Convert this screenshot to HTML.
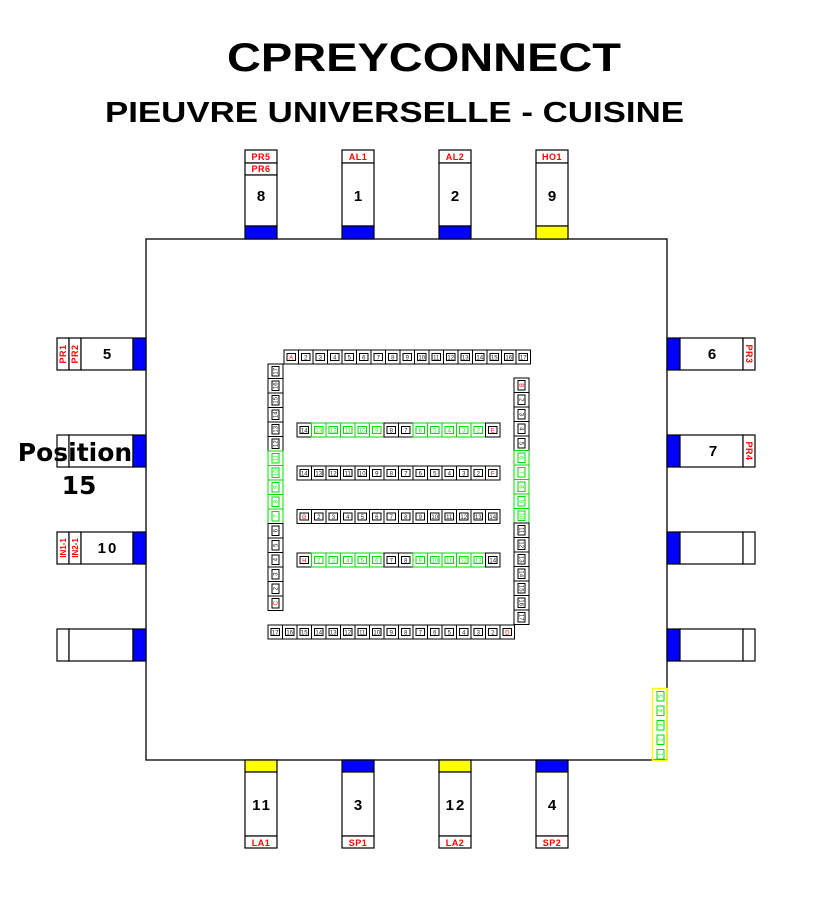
<!DOCTYPE html>
<html><head><meta charset="utf-8"><style>
html,body{margin:0;padding:0;background:#fff;}
svg{display:block;}
text{font-family:"Liberation Sans",sans-serif;}
.c{stroke:#000;stroke-width:1;fill:none}
.c text{fill:#222;stroke:none;font-size:6px;text-anchor:middle}
.g{stroke:#0d0}
.g text{fill:#2e2}
.r .in{stroke:#f00}
.r text{fill:#f00}
.lab{font-weight:bold;font-size:9px;fill:#f00;text-anchor:middle;letter-spacing:0.5px}
.num{font-weight:bold;font-size:15px;fill:#000;text-anchor:middle;letter-spacing:2px}
</style></head><body>
<svg width="826" height="903" viewBox="0 0 826 903" xmlns="http://www.w3.org/2000/svg">
<defs>
<rect id="oh" width="14.5" height="14"/>
<rect id="ih" class="in" x="3" y="3.5" width="8.5" height="7"/>
<rect id="ov" width="15" height="14.5"/>
<rect id="iv" class="in" x="4" y="2.5" width="7" height="9.5"/>
</defs>
<text x="227" y="71" textLength="394" lengthAdjust="spacingAndGlyphs" style="font-weight:bold;font-size:40px">CPREYCONNECT</text>
<text x="105" y="122" textLength="579" lengthAdjust="spacingAndGlyphs" style="font-weight:bold;font-size:29px">PIEUVRE UNIVERSELLE - CUISINE</text>
<g fill="none" stroke="#000" stroke-width="1.3">
<rect x="146" y="239" width="521" height="521"/>
</g>
<g stroke="#000" stroke-width="1.2" fill="#fff">
<rect x="245" y="150" width="32" height="13"/><rect x="245" y="163" width="32" height="12"/><rect x="245" y="175" width="32" height="51"/><rect x="245" y="226" width="32" height="13" fill="#00f"/>
<rect x="342" y="150" width="32" height="13"/><rect x="342" y="163" width="32" height="63"/><rect x="342" y="226" width="32" height="13" fill="#00f"/>
<rect x="439" y="150" width="32" height="13"/><rect x="439" y="163" width="32" height="63"/><rect x="439" y="226" width="32" height="13" fill="#00f"/>
<rect x="536" y="150" width="32" height="13"/><rect x="536" y="163" width="32" height="63"/><rect x="536" y="226" width="32" height="13" fill="#ff0"/>
<rect x="245" y="760" width="32" height="12" fill="#ff0"/><rect x="245" y="772" width="32" height="64"/><rect x="245" y="836" width="32" height="12"/>
<rect x="342" y="760" width="32" height="12" fill="#00f"/><rect x="342" y="772" width="32" height="64"/><rect x="342" y="836" width="32" height="12"/>
<rect x="439" y="760" width="32" height="12" fill="#ff0"/><rect x="439" y="772" width="32" height="64"/><rect x="439" y="836" width="32" height="12"/>
<rect x="536" y="760" width="32" height="12" fill="#00f"/><rect x="536" y="772" width="32" height="64"/><rect x="536" y="836" width="32" height="12"/>
<rect x="57" y="338" width="12" height="32"/><rect x="69" y="338" width="12" height="32"/><rect x="81" y="338" width="52" height="32"/><rect x="133" y="338" width="13" height="32" fill="#00f"/>
<rect x="57" y="435" width="12" height="32"/><rect x="69" y="435" width="64" height="32"/><rect x="133" y="435" width="13" height="32" fill="#00f"/>
<rect x="57" y="532" width="12" height="32"/><rect x="69" y="532" width="12" height="32"/><rect x="81" y="532" width="52" height="32"/><rect x="133" y="532" width="13" height="32" fill="#00f"/>
<rect x="57" y="629" width="12" height="32"/><rect x="69" y="629" width="64" height="32"/><rect x="133" y="629" width="13" height="32" fill="#00f"/>
<rect x="667" y="338" width="13" height="32" fill="#00f"/><rect x="680" y="338" width="63" height="32"/><rect x="743" y="338" width="12" height="32"/>
<rect x="667" y="435" width="13" height="32" fill="#00f"/><rect x="680" y="435" width="63" height="32"/><rect x="743" y="435" width="12" height="32"/>
<rect x="667" y="532" width="13" height="32" fill="#00f"/><rect x="680" y="532" width="63" height="32"/><rect x="743" y="532" width="12" height="32"/>
<rect x="667" y="629" width="13" height="32" fill="#00f"/><rect x="680" y="629" width="63" height="32"/><rect x="743" y="629" width="12" height="32"/>
</g>
<text class="lab" x="261" y="160">PR5</text><text class="lab" x="261" y="172">PR6</text>
<text class="lab" x="358" y="160">AL1</text><text class="lab" x="455" y="160">AL2</text><text class="lab" x="552" y="160">HO1</text>
<text class="num" x="262" y="201">8</text><text class="num" x="359" y="201">1</text><text class="num" x="456" y="201">2</text><text class="num" x="553" y="201">9</text>
<text class="num" x="262" y="810">11</text><text class="num" x="359" y="810">3</text><text class="num" x="456" y="810">12</text><text class="num" x="553" y="810">4</text>
<text class="lab" x="261" y="846">LA1</text><text class="lab" x="358" y="846">SP1</text><text class="lab" x="455" y="846">LA2</text><text class="lab" x="552" y="846">SP2</text>
<text class="lab" transform="translate(66,354) rotate(-90)">PR1</text>
<text class="lab" transform="translate(78,354) rotate(-90)">PR2</text>
<text class="num" x="108" y="359">5</text>
<text class="lab" style="font-size:8px;letter-spacing:0" transform="translate(66,548) rotate(-90)">IN1-1</text>
<text class="lab" style="font-size:8px;letter-spacing:0" transform="translate(78,548) rotate(-90)">IN2-1</text>
<text class="num" x="108" y="553">10</text>
<text class="num" x="713" y="359">6</text><text class="num" x="714" y="456">7</text>
<text class="lab" transform="translate(746,354) rotate(90)">PR3</text>
<text class="lab" transform="translate(746,451) rotate(90)">PR4</text>
<text x="75" y="461" style="font-family:'DejaVu Sans',sans-serif;font-weight:bold;font-size:25px;text-anchor:middle">Position</text>
<text x="79" y="494" style="font-family:'DejaVu Sans',sans-serif;font-weight:bold;font-size:25px;text-anchor:middle">15</text>

<g class="c">
<g class="r" transform="translate(284,350)"><use href="#oh"/><use href="#ih"/><text x="7.25" y="9.5">A</text></g>
<g transform="translate(298.5,350)"><use href="#oh"/><use href="#ih"/><text x="7.25" y="9.5">2</text></g>
<g transform="translate(313,350)"><use href="#oh"/><use href="#ih"/><text x="7.25" y="9.5">3</text></g>
<g transform="translate(327.5,350)"><use href="#oh"/><use href="#ih"/><text x="7.25" y="9.5">4</text></g>
<g transform="translate(342,350)"><use href="#oh"/><use href="#ih"/><text x="7.25" y="9.5">5</text></g>
<g transform="translate(356.5,350)"><use href="#oh"/><use href="#ih"/><text x="7.25" y="9.5">6</text></g>
<g transform="translate(371,350)"><use href="#oh"/><use href="#ih"/><text x="7.25" y="9.5">7</text></g>
<g transform="translate(385.5,350)"><use href="#oh"/><use href="#ih"/><text x="7.25" y="9.5">8</text></g>
<g transform="translate(400,350)"><use href="#oh"/><use href="#ih"/><text x="7.25" y="9.5">9</text></g>
<g transform="translate(414.5,350)"><use href="#oh"/><use href="#ih"/><text x="7.25" y="9.5">10</text></g>
<g transform="translate(429,350)"><use href="#oh"/><use href="#ih"/><text x="7.25" y="9.5">11</text></g>
<g transform="translate(443.5,350)"><use href="#oh"/><use href="#ih"/><text x="7.25" y="9.5">12</text></g>
<g transform="translate(458,350)"><use href="#oh"/><use href="#ih"/><text x="7.25" y="9.5">13</text></g>
<g transform="translate(472.5,350)"><use href="#oh"/><use href="#ih"/><text x="7.25" y="9.5">14</text></g>
<g transform="translate(487,350)"><use href="#oh"/><use href="#ih"/><text x="7.25" y="9.5">15</text></g>
<g transform="translate(501.5,350)"><use href="#oh"/><use href="#ih"/><text x="7.25" y="9.5">16</text></g>
<g transform="translate(516,350)"><use href="#oh"/><use href="#ih"/><text x="7.25" y="9.5">17</text></g>

<g transform="translate(268,625)"><use href="#oh"/><use href="#ih"/><text x="7.25" y="9.5">17</text></g>
<g transform="translate(282.5,625)"><use href="#oh"/><use href="#ih"/><text x="7.25" y="9.5">16</text></g>
<g transform="translate(297,625)"><use href="#oh"/><use href="#ih"/><text x="7.25" y="9.5">15</text></g>
<g transform="translate(311.5,625)"><use href="#oh"/><use href="#ih"/><text x="7.25" y="9.5">14</text></g>
<g transform="translate(326,625)"><use href="#oh"/><use href="#ih"/><text x="7.25" y="9.5">13</text></g>
<g transform="translate(340.5,625)"><use href="#oh"/><use href="#ih"/><text x="7.25" y="9.5">12</text></g>
<g transform="translate(355,625)"><use href="#oh"/><use href="#ih"/><text x="7.25" y="9.5">11</text></g>
<g transform="translate(369.5,625)"><use href="#oh"/><use href="#ih"/><text x="7.25" y="9.5">10</text></g>
<g transform="translate(384,625)"><use href="#oh"/><use href="#ih"/><text x="7.25" y="9.5">9</text></g>
<g transform="translate(398.5,625)"><use href="#oh"/><use href="#ih"/><text x="7.25" y="9.5">8</text></g>
<g transform="translate(413,625)"><use href="#oh"/><use href="#ih"/><text x="7.25" y="9.5">7</text></g>
<g transform="translate(427.5,625)"><use href="#oh"/><use href="#ih"/><text x="7.25" y="9.5">6</text></g>
<g transform="translate(442,625)"><use href="#oh"/><use href="#ih"/><text x="7.25" y="9.5">5</text></g>
<g transform="translate(456.5,625)"><use href="#oh"/><use href="#ih"/><text x="7.25" y="9.5">4</text></g>
<g transform="translate(471,625)"><use href="#oh"/><use href="#ih"/><text x="7.25" y="9.5">3</text></g>
<g transform="translate(485.5,625)"><use href="#oh"/><use href="#ih"/><text x="7.25" y="9.5">2</text></g>
<g class="r" transform="translate(500,625)"><use href="#oh"/><use href="#ih"/><text x="7.25" y="9.5">D</text></g>

<g transform="translate(268,364)"><use href="#ov"/><use href="#iv"/><text transform="translate(7.5,7.25) rotate(-90)" y="2">17</text></g>
<g transform="translate(268,378.5)"><use href="#ov"/><use href="#iv"/><text transform="translate(7.5,7.25) rotate(-90)" y="2">16</text></g>
<g transform="translate(268,393)"><use href="#ov"/><use href="#iv"/><text transform="translate(7.5,7.25) rotate(-90)" y="2">15</text></g>
<g transform="translate(268,407.5)"><use href="#ov"/><use href="#iv"/><text transform="translate(7.5,7.25) rotate(-90)" y="2">14</text></g>
<g transform="translate(268,422)"><use href="#ov"/><use href="#iv"/><text transform="translate(7.5,7.25) rotate(-90)" y="2">13</text></g>
<g transform="translate(268,436.5)"><use href="#ov"/><use href="#iv"/><text transform="translate(7.5,7.25) rotate(-90)" y="2">12</text></g>
<g class="g" transform="translate(268,451)"><use href="#ov"/><use href="#iv"/><text transform="translate(7.5,7.25) rotate(-90)" y="2">11</text></g>
<g class="g" transform="translate(268,465.5)"><use href="#ov"/><use href="#iv"/><text transform="translate(7.5,7.25) rotate(-90)" y="2">10</text></g>
<g class="g" transform="translate(268,480)"><use href="#ov"/><use href="#iv"/><text transform="translate(7.5,7.25) rotate(-90)" y="2">9</text></g>
<g class="g" transform="translate(268,494.5)"><use href="#ov"/><use href="#iv"/><text transform="translate(7.5,7.25) rotate(-90)" y="2">8</text></g>
<g class="g" transform="translate(268,509)"><use href="#ov"/><use href="#iv"/><text transform="translate(7.5,7.25) rotate(-90)" y="2">7</text></g>
<g transform="translate(268,523.5)"><use href="#ov"/><use href="#iv"/><text transform="translate(7.5,7.25) rotate(-90)" y="2">6</text></g>
<g transform="translate(268,538)"><use href="#ov"/><use href="#iv"/><text transform="translate(7.5,7.25) rotate(-90)" y="2">5</text></g>
<g transform="translate(268,552.5)"><use href="#ov"/><use href="#iv"/><text transform="translate(7.5,7.25) rotate(-90)" y="2">4</text></g>
<g transform="translate(268,567)"><use href="#ov"/><use href="#iv"/><text transform="translate(7.5,7.25) rotate(-90)" y="2">3</text></g>
<g transform="translate(268,581.5)"><use href="#ov"/><use href="#iv"/><text transform="translate(7.5,7.25) rotate(-90)" y="2">2</text></g>
<g class="r" transform="translate(268,596)"><use href="#ov"/><use href="#iv"/><text transform="translate(7.5,7.25) rotate(-90)" y="2">C</text></g>

<g class="r" transform="translate(514,378)"><use href="#ov"/><use href="#iv"/><text transform="translate(7.5,7.25) rotate(90)" y="2">B</text></g>
<g transform="translate(514,392.5)"><use href="#ov"/><use href="#iv"/><text transform="translate(7.5,7.25) rotate(90)" y="2">2</text></g>
<g transform="translate(514,407)"><use href="#ov"/><use href="#iv"/><text transform="translate(7.5,7.25) rotate(90)" y="2">3</text></g>
<g transform="translate(514,421.5)"><use href="#ov"/><use href="#iv"/><text transform="translate(7.5,7.25) rotate(90)" y="2">4</text></g>
<g transform="translate(514,436)"><use href="#ov"/><use href="#iv"/><text transform="translate(7.5,7.25) rotate(90)" y="2">5</text></g>
<g class="g" transform="translate(514,450.5)"><use href="#ov"/><use href="#iv"/><text transform="translate(7.5,7.25) rotate(90)" y="2">6</text></g>
<g class="g" transform="translate(514,465)"><use href="#ov"/><use href="#iv"/><text transform="translate(7.5,7.25) rotate(90)" y="2">7</text></g>
<g class="g" transform="translate(514,479.5)"><use href="#ov"/><use href="#iv"/><text transform="translate(7.5,7.25) rotate(90)" y="2">8</text></g>
<g class="g" transform="translate(514,494)"><use href="#ov"/><use href="#iv"/><text transform="translate(7.5,7.25) rotate(90)" y="2">9</text></g>
<g class="g" transform="translate(514,508.5)"><use href="#ov"/><use href="#iv"/><text transform="translate(7.5,7.25) rotate(90)" y="2">10</text></g>
<g transform="translate(514,523)"><use href="#ov"/><use href="#iv"/><text transform="translate(7.5,7.25) rotate(90)" y="2">11</text></g>
<g transform="translate(514,537.5)"><use href="#ov"/><use href="#iv"/><text transform="translate(7.5,7.25) rotate(90)" y="2">12</text></g>
<g transform="translate(514,552)"><use href="#ov"/><use href="#iv"/><text transform="translate(7.5,7.25) rotate(90)" y="2">13</text></g>
<g transform="translate(514,566.5)"><use href="#ov"/><use href="#iv"/><text transform="translate(7.5,7.25) rotate(90)" y="2">14</text></g>
<g transform="translate(514,581)"><use href="#ov"/><use href="#iv"/><text transform="translate(7.5,7.25) rotate(90)" y="2">15</text></g>
<g transform="translate(514,595.5)"><use href="#ov"/><use href="#iv"/><text transform="translate(7.5,7.25) rotate(90)" y="2">16</text></g>
<g transform="translate(514,610)"><use href="#ov"/><use href="#iv"/><text transform="translate(7.5,7.25) rotate(90)" y="2">17</text></g>

<g transform="translate(297,423)"><use href="#oh"/><use href="#ih"/><text x="7.25" y="9.5">14</text></g>
<g class="g" transform="translate(311.5,423)"><use href="#oh"/><use href="#ih"/><text x="7.25" y="9.5">13</text></g>
<g class="g" transform="translate(326,423)"><use href="#oh"/><use href="#ih"/><text x="7.25" y="9.5">12</text></g>
<g class="g" transform="translate(340.5,423)"><use href="#oh"/><use href="#ih"/><text x="7.25" y="9.5">11</text></g>
<g class="g" transform="translate(355,423)"><use href="#oh"/><use href="#ih"/><text x="7.25" y="9.5">10</text></g>
<g class="g" transform="translate(369.5,423)"><use href="#oh"/><use href="#ih"/><text x="7.25" y="9.5">9</text></g>
<g transform="translate(384,423)"><use href="#oh"/><use href="#ih"/><text x="7.25" y="9.5">8</text></g>
<g transform="translate(398.5,423)"><use href="#oh"/><use href="#ih"/><text x="7.25" y="9.5">7</text></g>
<g class="g" transform="translate(413,423)"><use href="#oh"/><use href="#ih"/><text x="7.25" y="9.5">6</text></g>
<g class="g" transform="translate(427.5,423)"><use href="#oh"/><use href="#ih"/><text x="7.25" y="9.5">5</text></g>
<g class="g" transform="translate(442,423)"><use href="#oh"/><use href="#ih"/><text x="7.25" y="9.5">4</text></g>
<g class="g" transform="translate(456.5,423)"><use href="#oh"/><use href="#ih"/><text x="7.25" y="9.5">3</text></g>
<g class="g" transform="translate(471,423)"><use href="#oh"/><use href="#ih"/><text x="7.25" y="9.5">2</text></g>
<g class="r" transform="translate(485.5,423)"><use href="#oh"/><use href="#ih"/><text x="7.25" y="9.5">E</text></g>

<g transform="translate(297,466)"><use href="#oh"/><use href="#ih"/><text x="7.25" y="9.5">14</text></g>
<g transform="translate(311.5,466)"><use href="#oh"/><use href="#ih"/><text x="7.25" y="9.5">13</text></g>
<g transform="translate(326,466)"><use href="#oh"/><use href="#ih"/><text x="7.25" y="9.5">12</text></g>
<g transform="translate(340.5,466)"><use href="#oh"/><use href="#ih"/><text x="7.25" y="9.5">11</text></g>
<g transform="translate(355,466)"><use href="#oh"/><use href="#ih"/><text x="7.25" y="9.5">10</text></g>
<g transform="translate(369.5,466)"><use href="#oh"/><use href="#ih"/><text x="7.25" y="9.5">9</text></g>
<g transform="translate(384,466)"><use href="#oh"/><use href="#ih"/><text x="7.25" y="9.5">8</text></g>
<g transform="translate(398.5,466)"><use href="#oh"/><use href="#ih"/><text x="7.25" y="9.5">7</text></g>
<g transform="translate(413,466)"><use href="#oh"/><use href="#ih"/><text x="7.25" y="9.5">6</text></g>
<g transform="translate(427.5,466)"><use href="#oh"/><use href="#ih"/><text x="7.25" y="9.5">5</text></g>
<g transform="translate(442,466)"><use href="#oh"/><use href="#ih"/><text x="7.25" y="9.5">4</text></g>
<g transform="translate(456.5,466)"><use href="#oh"/><use href="#ih"/><text x="7.25" y="9.5">3</text></g>
<g transform="translate(471,466)"><use href="#oh"/><use href="#ih"/><text x="7.25" y="9.5">2</text></g>
<g class="r" transform="translate(485.5,466)"><use href="#oh"/><use href="#ih"/><text x="7.25" y="9.5">F</text></g>

<g class="r" transform="translate(297,509.5)"><use href="#oh"/><use href="#ih"/><text x="7.25" y="9.5">G</text></g>
<g transform="translate(311.5,509.5)"><use href="#oh"/><use href="#ih"/><text x="7.25" y="9.5">2</text></g>
<g transform="translate(326,509.5)"><use href="#oh"/><use href="#ih"/><text x="7.25" y="9.5">3</text></g>
<g transform="translate(340.5,509.5)"><use href="#oh"/><use href="#ih"/><text x="7.25" y="9.5">4</text></g>
<g transform="translate(355,509.5)"><use href="#oh"/><use href="#ih"/><text x="7.25" y="9.5">5</text></g>
<g transform="translate(369.5,509.5)"><use href="#oh"/><use href="#ih"/><text x="7.25" y="9.5">6</text></g>
<g transform="translate(384,509.5)"><use href="#oh"/><use href="#ih"/><text x="7.25" y="9.5">7</text></g>
<g transform="translate(398.5,509.5)"><use href="#oh"/><use href="#ih"/><text x="7.25" y="9.5">8</text></g>
<g transform="translate(413,509.5)"><use href="#oh"/><use href="#ih"/><text x="7.25" y="9.5">9</text></g>
<g transform="translate(427.5,509.5)"><use href="#oh"/><use href="#ih"/><text x="7.25" y="9.5">10</text></g>
<g transform="translate(442,509.5)"><use href="#oh"/><use href="#ih"/><text x="7.25" y="9.5">11</text></g>
<g transform="translate(456.5,509.5)"><use href="#oh"/><use href="#ih"/><text x="7.25" y="9.5">12</text></g>
<g transform="translate(471,509.5)"><use href="#oh"/><use href="#ih"/><text x="7.25" y="9.5">13</text></g>
<g transform="translate(485.5,509.5)"><use href="#oh"/><use href="#ih"/><text x="7.25" y="9.5">14</text></g>

<g class="r" transform="translate(297,553)"><use href="#oh"/><use href="#ih"/><text x="7.25" y="9.5">H</text></g>
<g class="g" transform="translate(311.5,553)"><use href="#oh"/><use href="#ih"/><text x="7.25" y="9.5">2</text></g>
<g class="g" transform="translate(326,553)"><use href="#oh"/><use href="#ih"/><text x="7.25" y="9.5">3</text></g>
<g class="g" transform="translate(340.5,553)"><use href="#oh"/><use href="#ih"/><text x="7.25" y="9.5">4</text></g>
<g class="g" transform="translate(355,553)"><use href="#oh"/><use href="#ih"/><text x="7.25" y="9.5">5</text></g>
<g class="g" transform="translate(369.5,553)"><use href="#oh"/><use href="#ih"/><text x="7.25" y="9.5">6</text></g>
<g transform="translate(384,553)"><use href="#oh"/><use href="#ih"/><text x="7.25" y="9.5">7</text></g>
<g transform="translate(398.5,553)"><use href="#oh"/><use href="#ih"/><text x="7.25" y="9.5">8</text></g>
<g class="g" transform="translate(413,553)"><use href="#oh"/><use href="#ih"/><text x="7.25" y="9.5">9</text></g>
<g class="g" transform="translate(427.5,553)"><use href="#oh"/><use href="#ih"/><text x="7.25" y="9.5">10</text></g>
<g class="g" transform="translate(442,553)"><use href="#oh"/><use href="#ih"/><text x="7.25" y="9.5">11</text></g>
<g class="g" transform="translate(456.5,553)"><use href="#oh"/><use href="#ih"/><text x="7.25" y="9.5">12</text></g>
<g class="g" transform="translate(471,553)"><use href="#oh"/><use href="#ih"/><text x="7.25" y="9.5">13</text></g>
<g transform="translate(485.5,553)"><use href="#oh"/><use href="#ih"/><text x="7.25" y="9.5">14</text></g>
</g>

<rect x="652.5" y="688.5" width="14.5" height="72" fill="none" stroke="#ff0" stroke-width="1.5"/>
<g class="c g">
<g transform="translate(653,689)"><use href="#iv"/><text transform="translate(7.5,7.25) rotate(-90)" y="2">5</text></g>
<g transform="translate(653,703.5)"><use href="#iv"/><text transform="translate(7.5,7.25) rotate(-90)" y="2">4</text></g>
<g transform="translate(653,718)"><use href="#iv"/><text transform="translate(7.5,7.25) rotate(-90)" y="2">3</text></g>
<g transform="translate(653,732.5)"><use href="#iv"/><text transform="translate(7.5,7.25) rotate(-90)" y="2">2</text></g>
<g transform="translate(653,747)"><use href="#iv"/><text transform="translate(7.5,7.25) rotate(-90)" y="2">1</text></g>
</g>
</svg>
</body></html>
